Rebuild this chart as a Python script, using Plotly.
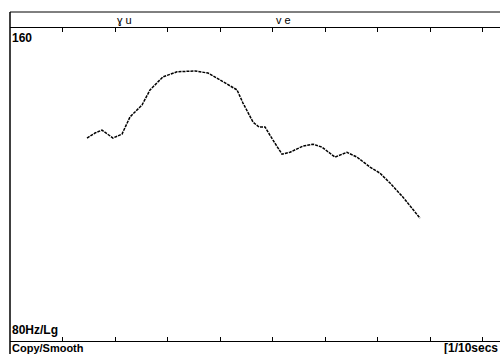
import plotly.graph_objects as go
import math

# time in 1/10 s, pitch in Hz
time_tenths = [1.467, 1.619, 1.752, 1.867, 1.962, 2.133, 2.286, 2.514, 2.667, 2.914,
               3.181, 3.524, 3.771, 4.000, 4.324, 4.438, 4.629, 4.743, 4.857, 5.010,
               5.181, 5.333, 5.581, 5.771, 5.943, 6.190, 6.419, 6.610, 6.857, 7.048,
               7.238, 7.486, 7.676, 7.810]
pitch_hz = [125.4, 126.8, 127.6, 126.5, 125.4, 126.5, 131.4, 134.9, 139.5, 143.6,
            145.2, 145.5, 144.8, 142.6, 139.5, 135.5, 129.9, 128.5, 128.5, 124.8,
            121.0, 121.5, 123.2, 123.7, 122.9, 120.2, 121.5, 120.2, 117.6, 116.0,
            113.5, 110.0, 106.9, 105.0]

syllables = ["ɣ u", "v e"]
syllable_x = [2.0, 5.03]
y_min, y_max = 80, 160
x_max = 9.333

fig = go.Figure()
fig.add_trace(go.Scatter(x=time_tenths, y=pitch_hz, mode="lines", line_shape="linear",
                         line=dict(color="black", width=1.5, dash="3px,1px"),
                         hoverinfo="skip", showlegend=False))

axis_font = dict(family="Liberation Sans Narrow, Arial Narrow, Liberation Sans, Arial", size=12, color="black")

fig.update_layout(
    width=500, height=354,
    margin=dict(l=10, r=0, t=28, b=13),
    paper_bgcolor="white", plot_bgcolor="white",
    showlegend=False,
    xaxis=dict(range=[0, x_max], showgrid=False, zeroline=False, showline=True,
               linecolor="black", linewidth=1, mirror="ticks", ticks="inside",
               ticklen=4, tickcolor="black", tickvals=list(range(0, 10)), showticklabels=False),
    yaxis=dict(type="log", range=[math.log10(y_min), math.log10(y_max)], showgrid=False,
               zeroline=False, showline=False, showticklabels=False, ticks=""),
)

# left frame line extending full height, and top border line
fig.add_shape(type="line", xref="paper", yref="paper", x0=0, x1=0, y0=-13/313, y1=(313+16)/313,
              line=dict(color="black", width=1.5))
fig.add_shape(type="line", xref="paper", yref="paper", x0=0, x1=1, y0=(313+16)/313, y1=(313+16)/313,
              line=dict(color="black", width=1))

for s, sx in zip(syllables, syllable_x):
    fig.add_annotation(x=sx, y=(313+8)/313, xref="x", yref="paper", text=s, showarrow=False,
                       xanchor="left", yanchor="middle",
                       font=dict(family="Liberation Sans, Arial", size=11, color="black"))

fig.add_annotation(x=0.0, y=1 - 10/313, xref="paper", yref="paper", text="<b>160</b>", showarrow=False,
                   xanchor="left", yanchor="middle", font=axis_font)
fig.add_annotation(x=0.0, y=11/313, xref="paper", yref="paper", text="<b>80Hz/Lg</b>", showarrow=False,
                   xanchor="left", yanchor="middle", font=axis_font)
fig.add_annotation(x=0.0, y=-7/313, xref="paper", yref="paper", text="<b>Copy/Smooth</b>", showarrow=False,
                   xanchor="left", yanchor="middle",
                   font=dict(family="Liberation Sans Narrow, Arial Narrow, Liberation Sans", size=11, color="black"))
fig.add_annotation(x=1.0, y=-7/313, xref="paper", yref="paper", text="<b>[1/10secs</b>", showarrow=False,
                   xanchor="right", yanchor="middle", font=axis_font)

fig.write_html("out.html")
